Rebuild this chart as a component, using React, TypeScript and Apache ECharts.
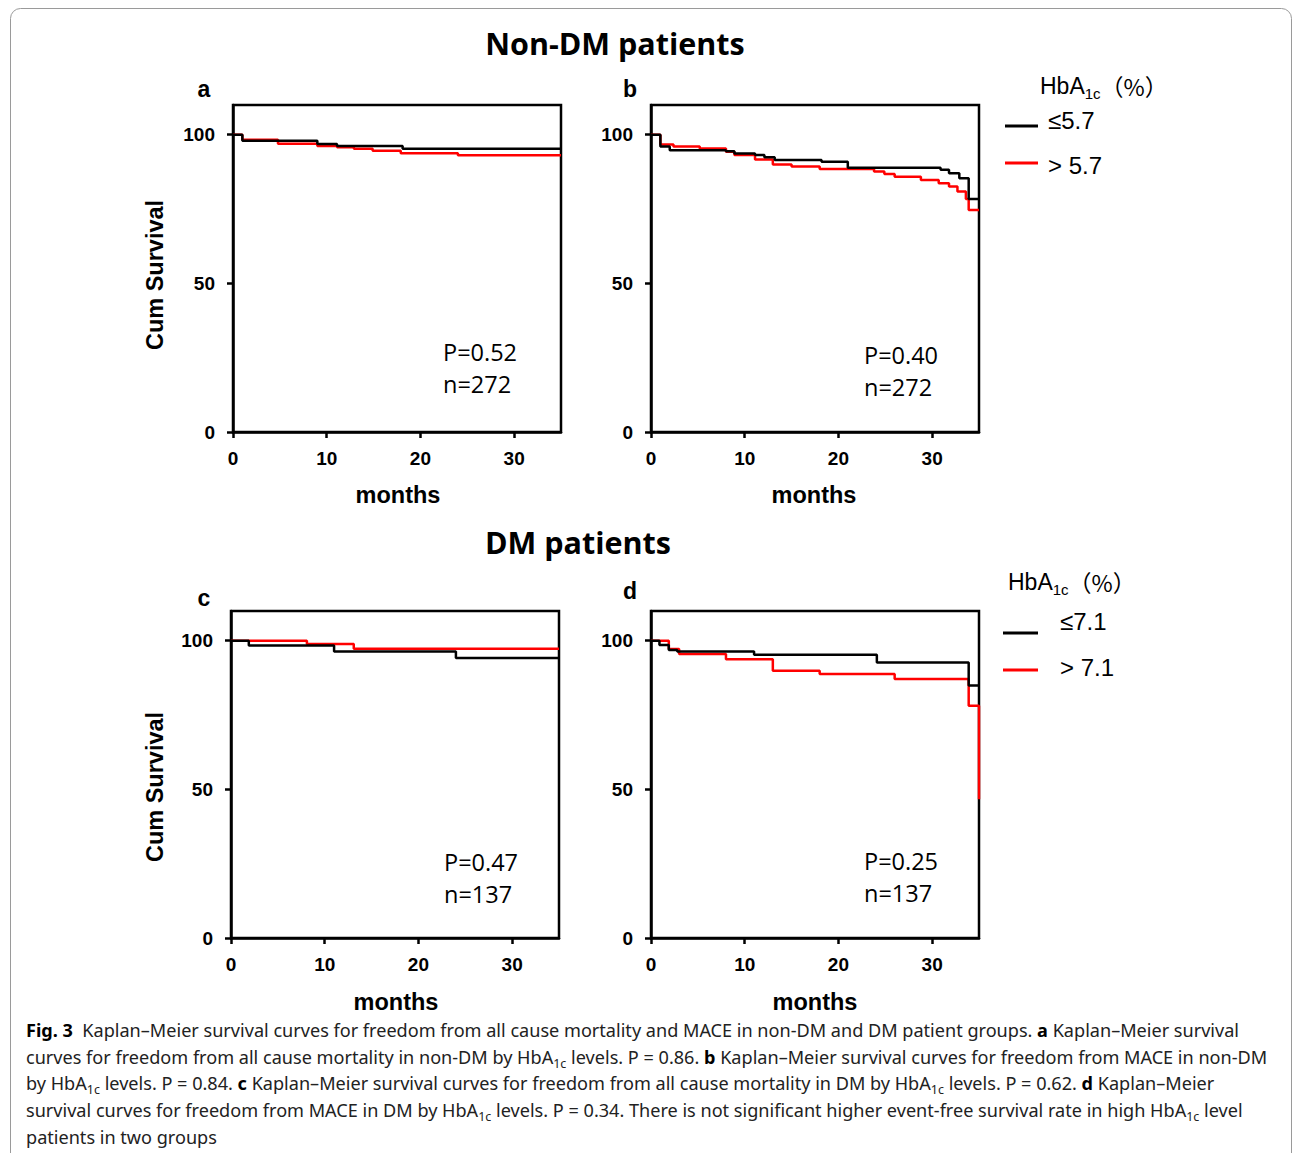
import React, { useEffect, useRef } from "react";
import * as echarts from "echarts";

// Panel a: all-cause mortality, non-DM (HbA1c <=5.7 vs >5.7)
const aLowT = [0, 1, 9, 11.1, 18.1, 35];
const aLowS = [100, 98.0, 96.9, 96.2, 95.3, 95.3];
const aHighT = [0, 1, 4.8, 9, 11.1, 12.9, 14.9, 17.9, 24.0, 35];
const aHighS = [100, 98.3, 97.0, 96.2, 95.8, 95.3, 94.6, 93.8, 93.1, 93.1];

// Panel b: MACE, non-DM
const bLowT = [0, 1, 2, 8, 8.9, 11.1, 12.1, 13.2, 18.2, 21.0, 30.9, 31.8, 32.9, 33.9, 35];
const bLowS = [100, 96.0, 94.8, 94.4, 93.7, 93.2, 92.4, 91.5, 90.9, 88.9, 88.2, 87.0, 85.4, 78.4, 78.4];
const bHighT = [0, 1, 2.4, 5.2, 8, 8.9, 11.1, 13, 15, 18, 23.8, 24.9, 26, 28.8, 30.7, 31.8, 32.7, 33.6, 33.9, 35];
const bHighS = [100, 96.7, 96.0, 95.4, 94.3, 93.2, 91.7, 90.0, 89.3, 88.5, 87.6, 86.8, 85.9, 84.8, 83.7, 82.6, 80.9, 78.4, 74.7, 74.7];

// Panel c: all-cause mortality, DM (HbA1c <=7.1 vs >7.1)
const cLowT = [0, 1.9, 11, 24, 35];
const cLowS = [100, 98.4, 96.4, 94.2, 94.2];
const cHighT = [0, 8.1, 13.1, 35];
const cHighS = [100, 98.9, 97.3, 97.3];

// Panel d: MACE, DM
const dLowT = [0, 0.9, 1.9, 2.8, 11, 24.1, 33.9, 35];
const dLowS = [100, 98.6, 96.9, 96.4, 95.3, 92.7, 84.9, 84.9];
const dHighT = [0, 1.9, 3, 8, 13, 18, 26, 33.9, 35];
const dHighS = [100, 97.2, 95.5, 93.8, 89.9, 88.8, 87.1, 78.1, 46.7];

const xTicks = [0, 10, 20, 30];
const yTicks = [0, 50, 100];
const panelLetters = ["a", "b", "c", "d"];
const pValues = ["P=0.52", "P=0.40", "P=0.47", "P=0.25"];
const nValues = ["n=272", "n=272", "n=137", "n=137"];
const legendTop = ["≤5.7", "> 5.7"];
const legendBottom = ["≤7.1", "> 7.1"];
const titles = ["Non-DM patients", "DM patients"];
const captionLines = [
  "{b|Fig. 3}  Kaplan–Meier survival curves for freedom from all cause mortality and MACE in non-DM and DM patient groups. {b|a} Kaplan–Meier survival",
  "curves for freedom from all cause mortality in non-DM by HbA{s|1c} levels. P = 0.86. {b|b} Kaplan–Meier survival curves for freedom from MACE in non-DM",
  "by HbA{s|1c} levels. P = 0.84. {b|c} Kaplan–Meier survival curves for freedom from all cause mortality in DM by HbA{s|1c} levels. P = 0.62. {b|d} Kaplan–Meier",
  "survival curves for freedom from MACE in DM by HbA{s|1c} levels. P = 0.34. There is not significant higher event-free survival rate in high HbA{s|1c} level",
  "patients in two groups",
];

const pairs = (t: number[], s: number[]) => t.map((v, i) => [v, s[i]]);

export default function App() {
  const ref = useRef<HTMLDivElement>(null);
  useEffect(() => {
    document.body.style.margin = "0";
    if (!ref.current) return;
    const chart = echarts.init(ref.current, null, { renderer: "svg" });

    const grids = [
      { left: 233, top: 105, width: 328, height: 327 },
      { left: 651, top: 105, width: 328, height: 327 },
      { left: 231, top: 611, width: 328, height: 327 },
      { left: 651, top: 611, width: 328, height: 327 },
    ].map((g) => ({ ...g, show: true, borderColor: "#000", borderWidth: 2.5, backgroundColor: "transparent" }));

    const axisFont = { fontFamily: "'Liberation Sans', Arial, sans-serif", fontWeight: "bold" as const, fontSize: 19, color: "#000" };

    const xAxes = grids.map((_, i) => ({
      type: "value" as const,
      gridIndex: i,
      min: 0,
      max: 35,
      interval: 5,
      splitLine: { show: false },
      axisLine: { show: true, lineStyle: { color: "#000", width: 2.5 } },
      axisTick: { show: true, length: 6, lineStyle: { color: "#000", width: 2.5 }, customValues: xTicks },
      axisLabel: { ...axisFont, margin: 17, customValues: xTicks },
    }));
    const yAxes = grids.map((_, i) => ({
      type: "value" as const,
      gridIndex: i,
      min: 0,
      max: 110,
      interval: 10,
      splitLine: { show: false },
      axisLine: { show: true, lineStyle: { color: "#000", width: 2.5 } },
      axisTick: { show: true, length: 6, lineStyle: { color: "#000", width: 2.5 }, customValues: yTicks },
      axisLabel: { ...axisFont, margin: 18, customValues: yTicks },
    }));

    const data = [
      [pairs(aLowT, aLowS), pairs(aHighT, aHighS)],
      [pairs(bLowT, bLowS), pairs(bHighT, bHighS)],
      [pairs(cLowT, cLowS), pairs(cHighT, cHighS)],
      [pairs(dLowT, dLowS), pairs(dHighT, dHighS)],
    ];
    const series: any[] = [];
    data.forEach((pair, i) => {
      const names = i < 2 ? legendTop : legendBottom;
      [1, 0].forEach((k) => {
        series.push({
          type: "line",
          name: names[k],
          xAxisIndex: i,
          yAxisIndex: i,
          step: "end",
          showSymbol: false,
          data: pair[k],
          lineStyle: { color: k === 0 ? "#000" : "#ff0000", width: 2.5 },
          itemStyle: { color: k === 0 ? "#000" : "#ff0000" },
          z: k === 0 ? 3 : 2,
        });
      });
    });

    const sansBold = "'Liberation Sans', Arial, sans-serif";
    const graphic: any[] = [];
    // outer border
    graphic.push({
      type: "rect",
      shape: { x: 10.5, y: 8.5, width: 1281, height: 1220, r: 10 },
      style: { fill: "none", stroke: "#9a9a9a", lineWidth: 1 },
      z: -1,
    });
    // titles
    graphic.push({
      type: "text",
      style: { text: titles[0], x: 615, y: 43, align: "center", verticalAlign: "middle", fontFamily: "'Open Sans', sans-serif", fontWeight: "bold", fontSize: 30.5, fill: "#000" },
    });
    graphic.push({
      type: "text",
      style: { text: titles[1], x: 578, y: 542, align: "center", verticalAlign: "middle", fontFamily: "'Open Sans', sans-serif", fontWeight: "bold", fontSize: 30.5, fill: "#000" },
    });
    // panel letters
    const letterPos = [[204, 89], [630, 89], [204, 598], [630, 591]];
    panelLetters.forEach((l, i) => {
      graphic.push({
        type: "text",
        style: { text: l, x: letterPos[i][0], y: letterPos[i][1], align: "center", verticalAlign: "middle", fontFamily: sansBold, fontWeight: "bold", fontSize: 23, fill: "#000" },
      });
    });
    // y axis names
    [[155, 275], [155, 787]].forEach(([x, y]) => {
      graphic.push({
        type: "text",
        x,
        y,
        rotation: Math.PI / 2,
        style: { text: "Cum Survival", x: 0, y: 0, align: "center", verticalAlign: "middle", fontFamily: sansBold, fontWeight: "bold", fontSize: 23.5, fill: "#000" },
      });
    });
    // x axis names
    [[398, 495], [814, 495], [396, 1002], [815, 1002]].forEach(([x, y]) => {
      graphic.push({
        type: "text",
        style: { text: "months", x, y, align: "center", verticalAlign: "middle", fontFamily: sansBold, fontWeight: "bold", fontSize: 23.5, fill: "#000" },
      });
    });
    // annotations
    const annPos = [[443, 352, 384], [864, 355, 387], [444, 862, 894], [864, 861, 893]];
    annPos.forEach(([x, y1, y2], i) => {
      graphic.push({
        type: "text",
        style: { text: pValues[i], x, y: y1, align: "left", verticalAlign: "middle", fontFamily: "'Open Sans', sans-serif", fontSize: 23.5, fill: "#000" },
      });
      graphic.push({
        type: "text",
        style: { text: nValues[i], x, y: y2, align: "left", verticalAlign: "middle", fontFamily: "'Open Sans', sans-serif", fontSize: 23.5, fill: "#000" },
      });
    });
    // legends
    const cjk = "'Noto Sans CJK SC', 'Noto Sans', sans-serif";
    const legFont = "'Liberation Sans', 'DejaVu Sans', sans-serif";
    const legRich = {
      h: { fontFamily: legFont, fontSize: 23, lineHeight: 30, fill: "#000" },
      s: { fontFamily: legFont, fontSize: 15, lineHeight: 15, verticalAlign: "bottom", fill: "#000" },
      p: { fontFamily: cjk, fontSize: 23, lineHeight: 30, fill: "#000" },
    };
    const drawLegend = (hx: number, hy: number, lx1: number, lx2: number, ly: number[], tx: number, ty: number[], labels: string[]) => {
      graphic.push({
        type: "text",
        style: { text: "{h|HbA}{s|1c}{p|（%）}", x: hx, y: hy, align: "left", verticalAlign: "middle", fontSize: 23, lineHeight: 30, fill: "#000", rich: legRich },
      });
      [0, 1].forEach((k) => {
        graphic.push({
          type: "line",
          shape: { x1: lx1, y1: ly[k], x2: lx2, y2: ly[k] },
          style: { stroke: k === 0 ? "#000" : "#ff0000", lineWidth: 3 },
        });
        graphic.push({
          type: "text",
          style: { text: labels[k], x: tx, y: ty[k], align: "left", verticalAlign: "middle", fontFamily: legFont, fontSize: 24, fill: "#000" },
        });
      });
    };
    drawLegend(1040, 86, 1005, 1038, [126, 163], 1048, [120, 165], legendTop);
    drawLegend(1008, 582, 1003, 1038, [633, 670], 1060, [621, 667], legendBottom);
    // caption
    const capFont = "'Noto Sans', 'Open Sans', sans-serif";
    const capSize = 18.1;
    const capRich = {
      b: { fontFamily: capFont, fontWeight: "bold", fontSize: capSize, fill: "#000" },
      s: { fontFamily: capFont, fontSize: 12.5, lineHeight: 13, verticalAlign: "bottom", fill: "#222" },
    };
    const capY = [1030, 1057, 1083, 1110, 1137];
    captionLines.forEach((line, i) => {
      graphic.push({
        type: "text",
        style: { text: line, x: 26, y: capY[i], align: "left", verticalAlign: "middle", fontFamily: capFont, fontSize: capSize, lineHeight: 25, fill: "#222", rich: capRich },
      });
    });

    chart.setOption({
      animation: false,
      backgroundColor: "#fff",
      grid: grids,
      xAxis: xAxes,
      yAxis: yAxes,
      series,
      graphic,
    });
    return () => chart.dispose();
  }, []);
  return <div ref={ref} style={{ width: 1293, height: 1153 }} />;
}
